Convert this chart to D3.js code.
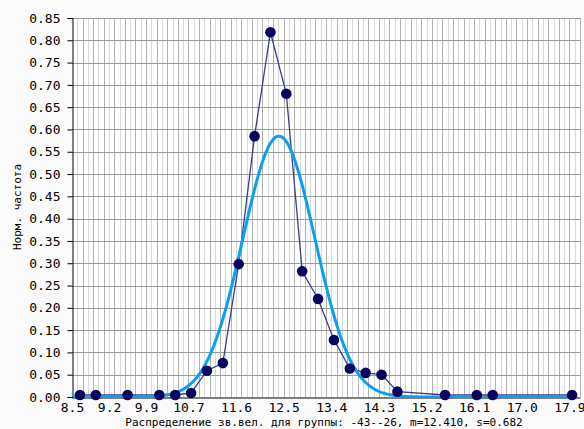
<!DOCTYPE html>
<html>
<head>
<meta charset="utf-8">
<script src="https://cdn.jsdelivr.net/npm/d3@7"></script>
<style>
  html, body { margin: 0; padding: 0; background: #fafafa; }
  svg { display: block; }
  .tick-label { font-family: "DejaVu Sans Mono", monospace; font-size: 13px; fill: #000; }
  .title { font-family: "DejaVu Sans Mono", monospace; font-size: 11px; fill: #000; }
</style>
</head>
<body>
<svg id="chart" width="584" height="429"></svg>
<script>
// Bin centres (magnitude) and normalised frequency per bin
const binCenters = [8.65, 8.95, 9.55, 10.15, 10.45, 10.75, 11.05, 11.35, 11.65, 11.95,
                    12.25, 12.55, 12.85, 13.15, 13.45, 13.75, 14.05, 14.35, 14.65,
                    15.55, 16.15, 16.45, 17.95];
const normFreq = [0.0045, 0.0045, 0.0045, 0.0045, 0.0045, 0.009, 0.059, 0.076, 0.298, 0.585,
                  0.818, 0.680, 0.282, 0.220, 0.128, 0.064, 0.054, 0.050, 0.012,
                  0.0045, 0.0045, 0.0045, 0.0045];

// Fitted normal parameters (shown in the axis caption)
const fitMean = 12.410;
const fitSigma = 0.682;

// Axis tick labels
const xTickLabels = ["8.5", "9.2", "9.9", "10.7", "11.6", "12.5", "13.4", "14.3", "15.2", "16.1", "17.0", "17.9"];
const yTickLabels = ["0.00", "0.05", "0.10", "0.15", "0.20", "0.25", "0.30", "0.35", "0.40",
                     "0.45", "0.50", "0.55", "0.60", "0.65", "0.70", "0.75", "0.80", "0.85"];

const xTitle = "Распределение зв.вел. для группы: -43--26, m=12.410, s=0.682";
const yTitle = "Норм. частота";

const svg = d3.select("#chart");
const plotLeft = 72, plotRight = 580, plotTop = 18, plotBottom = 397;

const x = d3.scaleLinear().domain([8.5, 18.1]).range([plotLeft, plotRight]);
const y = d3.scaleLinear().domain([0, 0.85]).range([plotBottom, plotTop]);

// Plot background
svg.append("rect").attr("x", plotLeft).attr("y", plotTop)
  .attr("width", plotRight - plotLeft).attr("height", plotBottom - plotTop).attr("fill", "#fff");

// Vertical grid every 0.1
const vGrid = d3.range(1, 97).map(k => ({ v: 8.5 + k * 0.1, k }));
svg.append("g").selectAll("line").data(vGrid).join("line")
  .attr("x1", d => Math.round(x(d.v)) + 0.5).attr("x2", d => Math.round(x(d.v)) + 0.5)
  .attr("y1", plotTop).attr("y2", plotBottom)
  .attr("stroke", d => d.k % 2 === 0 ? "#b2b2b2" : "#d8d8d8")
  .attr("stroke-width", 1);

// Horizontal grid every 0.05
const yTicks = yTickLabels.map(Number);
svg.append("g").selectAll("line").data(yTicks.slice(1)).join("line")
  .attr("x1", plotLeft).attr("x2", plotRight)
  .attr("y1", d => Math.round(y(d)) + 0.5).attr("y2", d => Math.round(y(d)) + 0.5)
  .attr("stroke", "#9a9a9a").attr("stroke-width", 1);

// Y axis
const yAxis = d3.axisLeft(y).tickValues(yTicks).tickSize(5).tickPadding(7)
  .tickFormat((d, i) => yTickLabels[i]);
const gy = svg.append("g").attr("transform", `translate(${plotLeft + 0.5},0)`).call(yAxis);
gy.select(".domain").attr("stroke", "#000");
gy.selectAll(".tick line").attr("stroke", "#000");
gy.selectAll(".tick text").attr("class", "tick-label");
gy.attr("font-family", null).attr("font-size", null);

// X axis
const xAxis = d3.axisBottom(x).tickValues(xTickLabels.map(Number)).tickSize(0).tickPadding(5)
  .tickFormat((d, i) => xTickLabels[i]);
const gx = svg.append("g").attr("transform", `translate(0,${plotBottom + 0.5})`).call(xAxis);
gx.select(".domain").attr("stroke", "#000");
gx.selectAll(".tick text").attr("class", "tick-label");
gx.attr("font-family", null).attr("font-size", null);

// Clip region for the fitted curve
svg.append("clipPath").attr("id", "plot-clip")
  .append("rect").attr("x", plotLeft).attr("y", plotTop - 5)
  .attr("width", plotRight - plotLeft).attr("height", plotBottom - plotTop + 5);

// Observed frequency polyline
const pts = binCenters.map((c, i) => [c, normFreq[i]]);
svg.append("path").datum(pts)
  .attr("fill", "none").attr("stroke", "#3c3c8c").attr("stroke-width", 1.3)
  .attr("d", d3.line().x(d => x(d[0])).y(d => y(d[1])));

// Fitted normal density from m and s
const curveXs = d3.range(8.5, 18.05, 0.02);
const pdf = v => Math.exp(-0.5 * ((v - fitMean) / fitSigma) ** 2) / (fitSigma * Math.sqrt(2 * Math.PI));
svg.append("path").datum(curveXs)
  .attr("clip-path", "url(#plot-clip)")
  .attr("fill", "none").attr("stroke", "#0aa0f0").attr("stroke-width", 3)
  .attr("d", d3.line().x(d => x(d)).y(d => y(pdf(d))));

// Data points
svg.append("g").selectAll("circle").data(pts).join("circle")
  .attr("cx", d => x(d[0])).attr("cy", d => y(d[1])).attr("r", 5.3)
  .attr("fill", "#05055f");

// Axis titles
svg.append("text").attr("class", "title")
  .attr("x", 324).attr("y", 426).attr("text-anchor", "middle").text(xTitle);
svg.append("text").attr("class", "title")
  .attr("transform", "translate(21,207) rotate(-90)").attr("text-anchor", "middle").text(yTitle);
</script>
</body>
</html>
